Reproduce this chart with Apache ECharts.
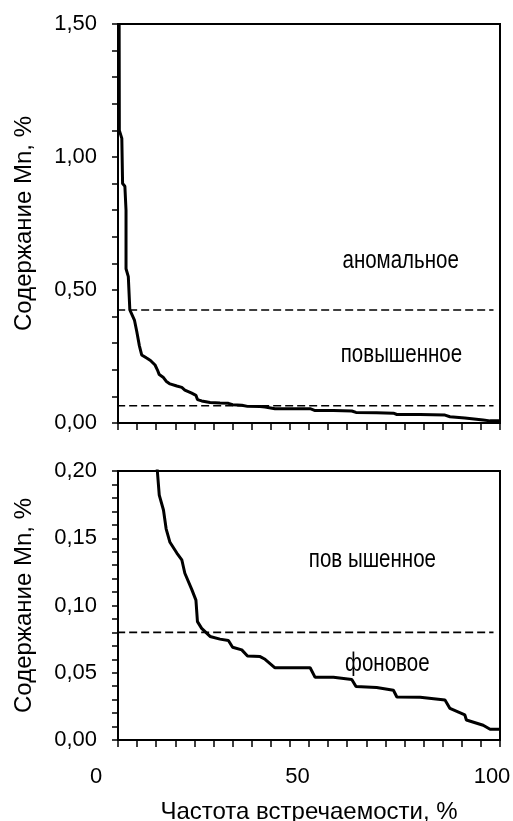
<!DOCTYPE html>
<html>
<head>
<meta charset="utf-8">
<script src="https://cdn.jsdelivr.net/npm/echarts@6/dist/echarts.min.js"></script>
<style>
html,body{margin:0;padding:0;background:#fff;}
#c{width:513px;height:821px;}
</style>
</head>
<body>
<div id="c"></div>
<script>
// Cumulative frequency (%) and Mn content (%)
var freq = [0.3, 0.35, 1.0, 1.2, 1.8, 2.1, 2.1, 2.7, 3.1, 4.3, 4.9, 5.6, 6.2, 7.5, 8.5, 9.7, 10.3, 10.8, 11.9, 12.6, 13.6, 15.4, 16.7, 17.5, 19.3, 20.4, 20.8, 21.9, 24.1, 26.7, 28.9, 30.0, 32.4, 33.9, 37.2, 38.5, 41.1, 50.3, 51.6, 56.4, 61.2, 62.3, 67.7, 72.1, 73.0, 79.1, 85.6, 86.9, 90.8, 91.2, 95.6, 97.4, 100];
var mn = [1.5, 1.10, 1.07, 0.90, 0.89, 0.80, 0.58, 0.55, 0.425, 0.387, 0.345, 0.29, 0.256, 0.244, 0.235, 0.218, 0.2, 0.182, 0.171, 0.157, 0.147, 0.139, 0.134, 0.124, 0.112, 0.104, 0.088, 0.083, 0.077, 0.075, 0.074, 0.069, 0.067, 0.0625, 0.062, 0.060, 0.0537, 0.0537, 0.0466, 0.0466, 0.045, 0.0397, 0.039, 0.037, 0.032, 0.0317, 0.0297, 0.0235, 0.0186, 0.0149, 0.011, 0.008, 0.008];

// Threshold lines
var topThresholds = [0.425, 0.065];
var bottomThresholds = [0.08];
var thresholdX = [-6.5, 98.3];

// Zone labels
var topNotes = ['аномальное', 'повышенное'];
var topNoteX = [74.0, 74.2];
var topNoteY = [0.61, 0.255];
var bottomNotes = ['пов ышенное', 'фоновое'];
var bottomNoteX = [66.6, 70.5];
var bottomNoteY = [0.1334, 0.0567];

var xTicks = [0, 50, 100];
var yTitle = 'Содержание Mn, %';
var xTitle = 'Частота встречаемости, %';

var FONT = "'Liberation Sans', Arial, sans-serif";

var curve = freq.map(function (f, i) { return [f, mn[i]]; });

function dashSeries(xi, yi, y) {
  return {
    type: 'line', xAxisIndex: xi, yAxisIndex: yi, clip: false, silent: true,
    symbol: 'none', data: [[thresholdX[0], y], [thresholdX[1], y]],
    lineStyle: { color: '#000', width: 1.6, type: [8, 4] }, z: 3
  };
}
function noteSeries(xi, yi, names, xs, ys) {
  return {
    type: 'custom', xAxisIndex: xi, yAxisIndex: yi, silent: true, clip: false,
    data: xs.map(function (x, i) { return [x, ys[i]]; }),
    renderItem: function (params, api) {
      var p = api.coord([api.value(0), api.value(1)]);
      return {
        type: 'text', x: p[0], y: p[1], scaleX: 0.82,
        style: { text: names[params.dataIndex], fill: '#000', fontFamily: FONT,
          fontSize: 25, align: 'center', verticalAlign: 'middle' }
      };
    }
  };
}
function fmt(v) { return v.toFixed(2).replace('.', ','); }

var axisLineStyle = { color: '#000', width: 2 };
var tickStyle = { color: '#000', width: 1.5 };

var option = {
  animation: false,
  backgroundColor: '#fff',
  grid: [
    { left: 118, top: 24, right: 13, height: 399, show: true, borderColor: '#000', borderWidth: 2,
      containLabel: false, outerBoundsMode: 'none' },
    { left: 118, top: 471, right: 13, height: 269, show: true, borderColor: '#000', borderWidth: 2,
      containLabel: false, outerBoundsMode: 'none' }
  ],
  xAxis: [
    { type: 'value', gridIndex: 0, min: 0, max: 100, interval: 5,
      axisLine: { lineStyle: axisLineStyle }, axisTick: { length: 7, lineStyle: tickStyle },
      axisLabel: { show: false }, splitLine: { show: false } },
    { type: 'value', gridIndex: 1, min: 0, max: 100, interval: 50,
      axisLine: { lineStyle: axisLineStyle }, axisTick: { length: 7, lineStyle: tickStyle },
      minorTick: { show: true, splitNumber: 10, length: 7, lineStyle: tickStyle },
      splitLine: { show: false }, minorSplitLine: { show: false },
      axisLabel: {
        margin: 26, color: '#000', fontFamily: FONT, fontSize: 22,
        formatter: function (v) {
          if (v === xTicks[0]) return '{a|' + v + '}';
          if (v === xTicks[1]) return '{b|' + v + '}';
          return '{c|' + v + '}';
        },
        rich: {
          a: { fontFamily: FONT, fontSize: 22, color: '#000', padding: [0, 44, 0, 0] },
          b: { fontFamily: FONT, fontSize: 22, color: '#000', padding: [0, 23, 0, 0] },
          c: { fontFamily: FONT, fontSize: 22, color: '#000', padding: [0, 16, 0, 0] }
        }
      },
      name: xTitle, nameLocation: 'middle', nameGap: 60,
      nameTextStyle: { color: '#000', fontFamily: FONT, fontSize: 24 } }
  ],
  yAxis: [
    { type: 'value', gridIndex: 0, min: 0, max: 1.5, interval: 0.5,
      axisLine: { lineStyle: axisLineStyle }, axisTick: { length: 6, lineStyle: tickStyle },
      minorTick: { show: true, splitNumber: 5, length: 6, lineStyle: tickStyle },
      splitLine: { show: false }, minorSplitLine: { show: false },
      axisLabel: { margin: 21, color: '#000', fontFamily: FONT, fontSize: 22, formatter: fmt },
      name: yTitle, nameLocation: 'middle', nameGap: 82,
      nameTextStyle: { color: '#000', fontFamily: FONT, fontSize: 24 } },
    { type: 'value', gridIndex: 1, min: 0, max: 0.2, interval: 0.05,
      axisLine: { lineStyle: axisLineStyle }, axisTick: { length: 6, lineStyle: tickStyle },
      minorTick: { show: true, splitNumber: 5, length: 6, lineStyle: tickStyle },
      splitLine: { show: false }, minorSplitLine: { show: false },
      axisLabel: { margin: 21, color: '#000', fontFamily: FONT, fontSize: 22, formatter: fmt },
      name: yTitle, nameLocation: 'middle', nameGap: 82,
      nameTextStyle: { color: '#000', fontFamily: FONT, fontSize: 24 } }
  ],
  series: [
    { type: 'line', xAxisIndex: 0, yAxisIndex: 0, data: curve, symbol: 'none',
      lineStyle: { color: '#000', width: 3 }, z: 5 },
    { type: 'line', xAxisIndex: 1, yAxisIndex: 1, data: curve, symbol: 'none',
      lineStyle: { color: '#000', width: 3 }, z: 5 },
    dashSeries(0, 0, topThresholds[0]),
    dashSeries(0, 0, topThresholds[1]),
    dashSeries(1, 1, bottomThresholds[0]),
    noteSeries(0, 0, topNotes, topNoteX, topNoteY),
    noteSeries(1, 1, bottomNotes, bottomNoteX, bottomNoteY)
  ]
};

var chart = echarts.init(document.getElementById('c'), null, { renderer: 'canvas' });
chart.setOption(option);
</script>
</body>
</html>
